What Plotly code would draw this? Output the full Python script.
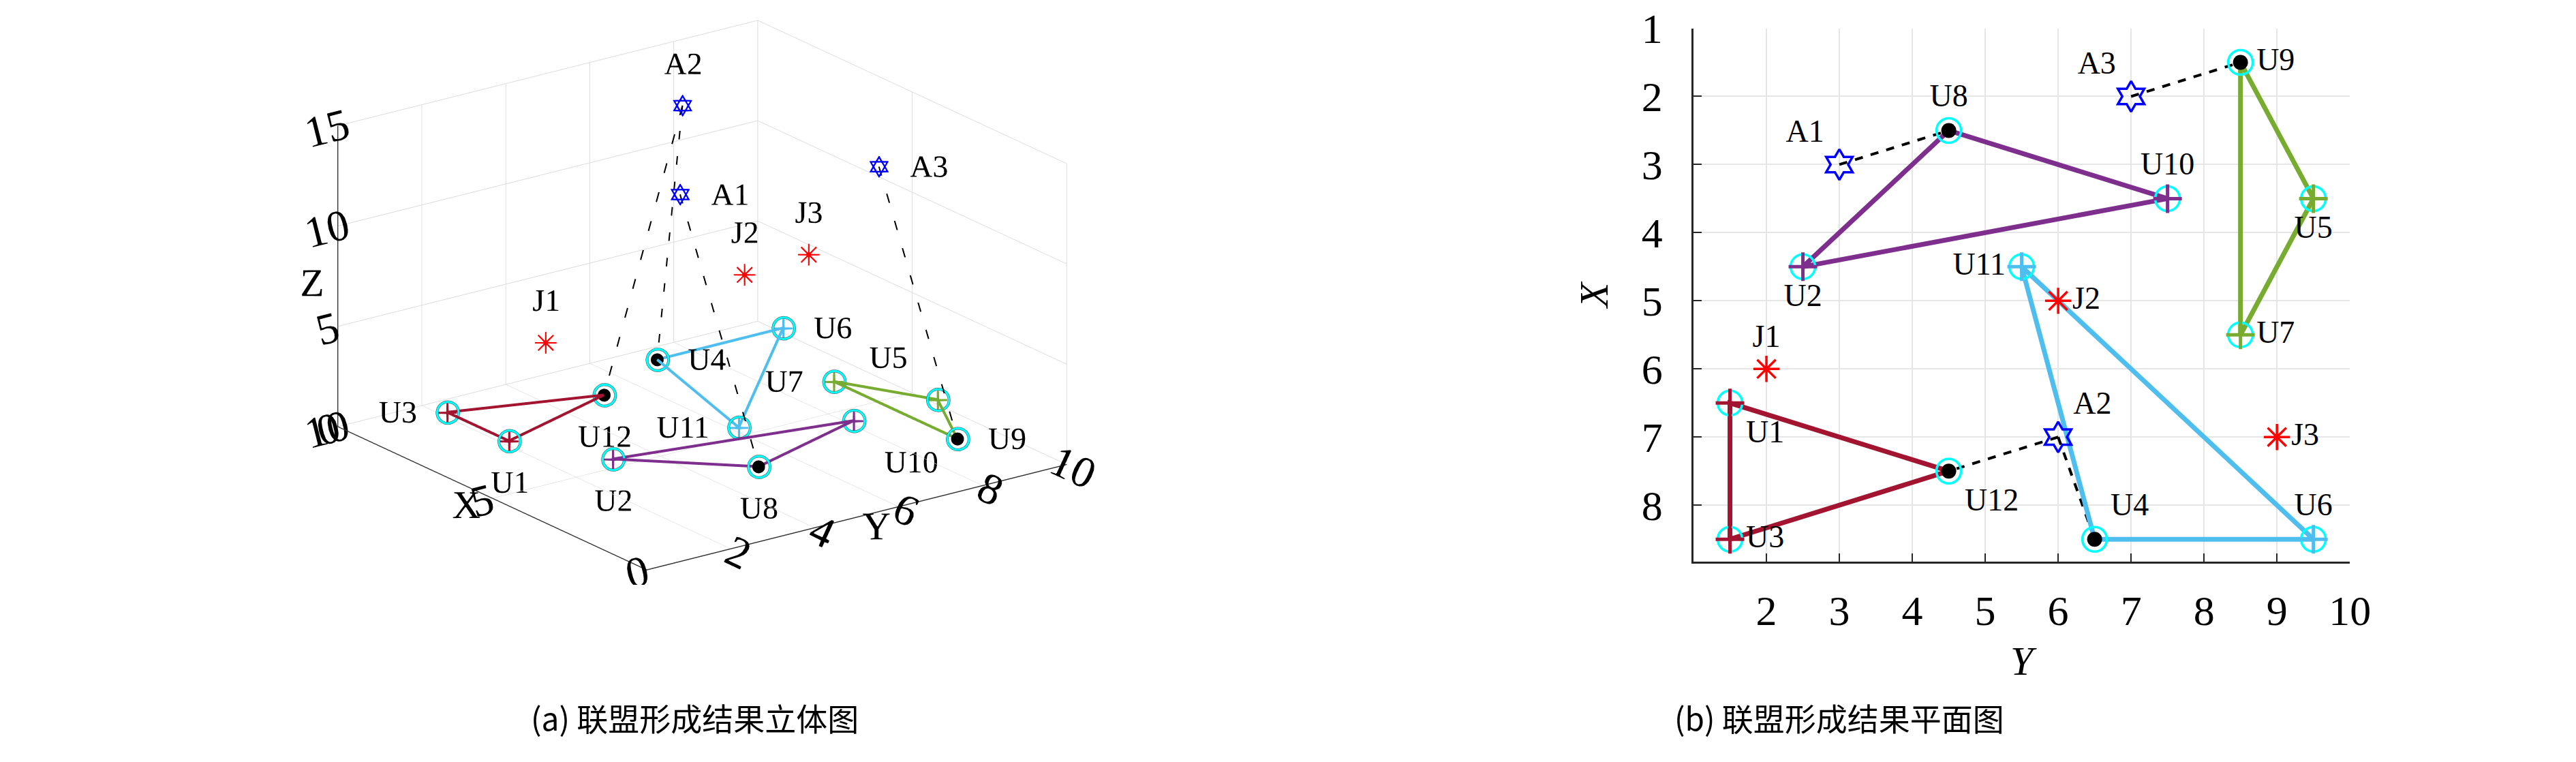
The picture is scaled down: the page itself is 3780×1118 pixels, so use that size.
import plotly.graph_objects as go

# usuarios (U), UAV (A) y jammers (J); X vertical / Y horizontal en el plano
user_names = ['U1', 'U2', 'U3', 'U4', 'U5', 'U6', 'U7', 'U8', 'U9', 'U10', 'U11', 'U12']
user_x = [6.5, 4.5, 8.5, 8.5, 3.5, 8.5, 5.5, 2.5, 1.5, 3.5, 4.5, 7.5]
user_y = [1.5, 2.5, 1.5, 6.5, 9.5, 9.5, 8.5, 4.5, 8.5, 7.5, 5.5, 4.5]
user_z = [1, 1, 1, 1, 1, 1, 1, 1, 1, 1, 1, 1]

# cabezas de coalicion (punto negro)
heads = ['U4', 'U8', 'U9', 'U12']

# coaliciones (triangulos cerrados)
coal_red = ['U3', 'U1', 'U12', 'U3']
coal_purple = ['U2', 'U8', 'U10', 'U2']
coal_blue = ['U11', 'U4', 'U6', 'U11']
coal_green = ['U7', 'U5', 'U9', 'U7']

uav_names = ['A1', 'A2', 'A3']
uav_x = [3, 7, 2]
uav_y = [3, 6, 7]
uav_z = [15, 15, 15]

# enlaces UAV -> cabeza (linea discontinua)
links = [('A1', 'U8'), ('A2', 'U12'), ('A2', 'U4'), ('A3', 'U9')]

jam_names = ['J1', 'J2', 'J3']
jam_x = [6, 5, 7]
jam_y = [2, 6, 9]
jam_z = [6, 8, 6]

captions = ['(a) 联盟形成结果立体图', '(b) 联盟形成结果平面图']

# posiciones de las etiquetas
pos2d = {'U1': 'bottom right', 'U2': 'bottom center', 'U3': 'middle right', 'U4': 'top right',
         'U5': 'bottom center', 'U6': 'top center', 'U7': 'middle right', 'U8': 'top center',
         'U9': 'middle right', 'U10': 'top center', 'U11': 'middle left', 'U12': 'bottom right',
         'A1': 'top left', 'A2': 'top right', 'A3': 'top left',
         'J1': 'top center', 'J2': 'middle right', 'J3': 'middle right'}
pos3d = {'U1': 'bottom center', 'U2': 'bottom center', 'U3': 'middle left', 'U4': 'middle right',
         'U5': 'top left', 'U6': 'middle right', 'U7': 'middle left', 'U8': 'bottom center',
         'U9': 'middle right', 'U10': 'bottom right', 'U11': 'middle left', 'U12': 'bottom center',
         'A1': 'middle right', 'A2': 'top center', 'A3': 'middle right',
         'J1': 'top center', 'J2': 'top center', 'J3': 'top center'}

RED = '#A2142F'
PURPLE = '#7E2F8E'
LBLUE = '#4DBEEE'
GREEN = '#77AC30'
FONT = 'Liberation Serif'

pts = {}
for n, a, b, c in zip(user_names, user_x, user_y, user_z):
    pts[n] = (a, b, c)
for n, a, b, c in zip(uav_names, uav_x, uav_y, uav_z):
    pts[n] = (a, b, c)
for n, a, b, c in zip(jam_names, jam_x, jam_y, jam_z):
    pts[n] = (a, b, c)

def col(names, i):
    return [pts[n][i] for n in names]

fig = go.Figure()

# ---------------- 3D (x de plotly = Y, y de plotly = X) ----------------
for a, u in links:
    fig.add_trace(go.Scatter3d(x=col([a, u], 1), y=col([a, u], 0), z=col([a, u], 2),
                               mode='lines', line=dict(color='black', width=4, dash='longdash'),
                               showlegend=False, hoverinfo='skip'))
for names, c in [(coal_red, RED), (coal_purple, PURPLE), (coal_blue, LBLUE), (coal_green, GREEN)]:
    fig.add_trace(go.Scatter3d(x=col(names, 1), y=col(names, 0), z=col(names, 2),
                               mode='lines', line=dict(color=c, width=8),
                               showlegend=False, hoverinfo='skip'))
    members = [n for n in names[:-1] if n not in heads]
    fig.add_trace(go.Scatter3d(x=col(members, 1), y=col(members, 0), z=col(members, 2),
                               mode='markers', marker=dict(symbol='cross', size=15, color=c),
                               showlegend=False, hoverinfo='skip'))

fig.add_trace(go.Scatter3d(x=user_y, y=user_x, z=user_z, mode='markers+text',
                           marker=dict(symbol='circle-open', size=20, color='#00FFFF', line=dict(width=3)),
                           text=user_names, textposition=[pos3d[n] for n in user_names],
                           textfont=dict(family=FONT, size=46, color='black'),
                           showlegend=False, hoverinfo='skip'))
fig.add_trace(go.Scatter3d(x=col(heads, 1), y=col(heads, 0), z=col(heads, 2), mode='markers',
                           marker=dict(symbol='circle', size=11, color='black'),
                           showlegend=False, hoverinfo='skip'))
fig.add_trace(go.Scatter3d(x=uav_y, y=uav_x, z=uav_z, mode='text',
                           text=['✡', '✡', '✡'], textposition='middle center',
                           textfont=dict(family='DejaVu Sans', size=44, color='#0000FF'),
                           showlegend=False, hoverinfo='skip'))
fig.add_trace(go.Scatter3d(x=uav_y, y=uav_x, z=uav_z, mode='markers+text',
                           marker=dict(size=1, color='rgba(0,0,0,0)'),
                           text=uav_names, textposition=[pos3d[n] for n in uav_names],
                           textfont=dict(family=FONT, size=46, color='black'),
                           showlegend=False, hoverinfo='skip'))
fig.add_trace(go.Scatter3d(x=jam_y, y=jam_x, z=jam_z, mode='text',
                           text=['✳', '✳', '✳'], textposition='middle center',
                           textfont=dict(family='DejaVu Sans', size=44, color='#FF0000'),
                           showlegend=False, hoverinfo='skip'))
fig.add_trace(go.Scatter3d(x=jam_y, y=jam_x, z=jam_z, mode='markers+text',
                           marker=dict(size=1, color='rgba(0,0,0,0)'),
                           text=jam_names, textposition=[pos3d[n] for n in jam_names],
                           textfont=dict(family=FONT, size=46, color='black'),
                           showlegend=False, hoverinfo='skip'))

# ---------------- 2D ----------------
for a, u in links:
    fig.add_trace(go.Scatter(x=col([a, u], 1), y=col([a, u], 0), mode='lines',
                             line=dict(color='black', width=4, dash='dash'),
                             xaxis='x', yaxis='y', showlegend=False, hoverinfo='skip'))
for names, c in [(coal_red, RED), (coal_purple, PURPLE), (coal_blue, LBLUE), (coal_green, GREEN)]:
    fig.add_trace(go.Scatter(x=col(names, 1), y=col(names, 0), mode='lines',
                             line=dict(color=c, width=7),
                             xaxis='x', yaxis='y', showlegend=False, hoverinfo='skip'))
fig.add_trace(go.Scatter(x=user_y, y=user_x, mode='markers+text', cliponaxis=False,
                         marker=dict(symbol='circle-open', size=36, color='#00FFFF', line=dict(width=3.5)),
                         text=user_names, textposition=[pos2d[n] for n in user_names],
                         textfont=dict(family=FONT, size=46, color='black'),
                         xaxis='x', yaxis='y', showlegend=False, hoverinfo='skip'))
for names, c in [(coal_red, RED), (coal_purple, PURPLE), (coal_blue, LBLUE), (coal_green, GREEN)]:
    members = [n for n in names[:-1] if n not in heads]
    fig.add_trace(go.Scatter(x=col(members, 1), y=col(members, 0), mode='markers',
                             marker=dict(symbol='cross-thin-open', size=30, color=c, line=dict(width=5, color=c)),
                             xaxis='x', yaxis='y', showlegend=False, hoverinfo='skip'))
fig.add_trace(go.Scatter(x=col(heads, 1), y=col(heads, 0), mode='markers',
                         marker=dict(symbol='circle', size=22, color='black'),
                         xaxis='x', yaxis='y', showlegend=False, hoverinfo='skip'))
fig.add_trace(go.Scatter(x=uav_y, y=uav_x, mode='markers+text', cliponaxis=False,
                         marker=dict(symbol='hexagram-open', size=34, color='#0000FF', line=dict(width=3.5)),
                         text=uav_names, textposition=[pos2d[n] for n in uav_names],
                         textfont=dict(family=FONT, size=46, color='black'),
                         xaxis='x', yaxis='y', showlegend=False, hoverinfo='skip'))
fig.add_trace(go.Scatter(x=jam_y, y=jam_x, mode='markers+text', cliponaxis=False,
                         marker=dict(symbol='asterisk-open', size=32, color='#FF0000', line=dict(width=3.5)),
                         text=jam_names, textposition=[pos2d[n] for n in jam_names],
                         textfont=dict(family=FONT, size=46, color='black'),
                         xaxis='x', yaxis='y', showlegend=False, hoverinfo='skip'))

ax3 = dict(showbackground=False, gridcolor='#dcdcdc', gridwidth=2, showline=True,
           linecolor='#333333', linewidth=3, zeroline=False, showspikes=False,
           tickfont=dict(family=FONT, size=28, color='black'),
           title_font=dict(family=FONT, size=58, color='black'))
k = 3.0
s3 = 1.80
fig.update_layout(
    width=3780, height=1118,
    margin=dict(l=0, r=0, t=0, b=0, autoexpand=False),
    paper_bgcolor='white', plot_bgcolor='white',
    scene=dict(
        domain=dict(x=[0.014, 0.527], y=[0.24, 1.0]),
        xaxis=dict(ax3, title=dict(text='Y'), range=[0, 10], tickvals=[2, 4, 6, 8, 10]),
        yaxis=dict(ax3, title=dict(text='X'), range=[0, 10], tickvals=[0, 5, 10]),
        zaxis=dict(ax3, title=dict(text='Z'), range=[0, 15], tickvals=[0, 5, 10, 15]),
        aspectmode='manual', aspectratio=dict(x=s3, y=s3, z=1.105),
        camera=dict(eye=dict(x=-0.557 * k, y=-0.757 * k, z=0.341 * k),
                    center=dict(x=0, y=0, z=0), up=dict(x=0, y=0, z=1),
                    projection=dict(type='orthographic')),
    ),
    xaxis=dict(domain=[0.6553, 0.9101], range=[1, 10], tickvals=[2, 3, 4, 5, 6, 7, 8, 9, 10],
               ticks='inside', ticklen=12, tickwidth=2, tickcolor='#262626',
               showline=True, linecolor='#262626', linewidth=3, automargin=False,
               showgrid=True, gridcolor='#e6e6e6', gridwidth=2, zeroline=False,
               tickfont=dict(family=FONT, size=62, color='black'), ticklabelstandoff=15,
               title=dict(text='<i>Y</i>', font=dict(family=FONT, size=60, color='black'), standoff=20),
               anchor='y'),
    yaxis=dict(domain=[0.27, 0.97], range=[8.83, 1], tickvals=[1, 2, 3, 4, 5, 6, 7, 8],
               ticks='inside', ticklen=12, tickwidth=2, tickcolor='#262626',
               showline=True, linecolor='#262626', linewidth=3, automargin=False,
               showgrid=True, gridcolor='#e6e6e6', gridwidth=2, zeroline=False,
               tickfont=dict(family=FONT, size=62, color='black'), ticklabelstandoff=30,
               title=dict(text='<i>X</i>', font=dict(family=FONT, size=60, color='black'), standoff=30),
               anchor='x'),
    annotations=[
        dict(text=captions[0], x=0.2034, y=0.035, xref='paper', yref='paper', showarrow=False,
             font=dict(family='Noto Sans CJK SC', size=46, color='black')),
        dict(text=captions[1], x=0.7765, y=0.035, xref='paper', yref='paper', showarrow=False,
             font=dict(family='Noto Sans CJK SC', size=46, color='black')),
    ],
)

fig.write_html("out.html", config=dict(displayModeBar=False))
